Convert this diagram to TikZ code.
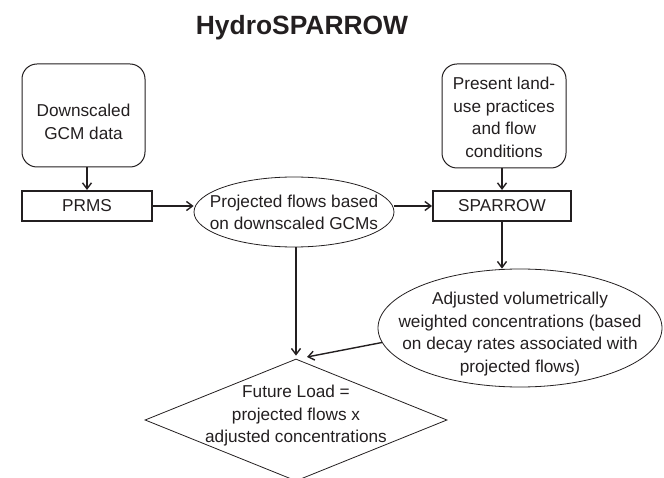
\documentclass[tikz,border=0pt]{standalone}
\usepackage{fontspec}
\setmainfont{Liberation Sans}
\usetikzlibrary{shapes.geometric,arrows.meta}
\definecolor{ink}{HTML}{231F20}
\tikzset{
  rbox/.style={draw=ink, line width=1pt, rounded corners=15pt, inner sep=0pt},
  sbox/.style={draw=ink, line width=2pt, inner sep=0pt, text=ink, font=\fontsize{17.2}{22.5}\selectfont},
  ell/.style={draw=ink, ellipse, line width=0.8pt, inner sep=0pt},
  dia/.style={draw=ink, diamond, line width=0.8pt, inner sep=0pt},
  txt/.style={align=center, text=ink, inner sep=0pt, font=\fontsize{17.2}{22.5}\selectfont},
  conn/.style={draw=ink, line width=1.4pt, -{Straight Barb[length=6pt,width=9pt]}},
}
\begin{document}
\begin{tikzpicture}[x=1pt,y=-1pt]
\useasboundingbox (0,0) rectangle (664,478);
\node[font=\bfseries\fontsize{26.4}{30}\selectfont, text=ink, inner sep=0pt] (title) at (302,28) {HydroSPARROW};
% boxes
\node[rbox, minimum width=123pt, minimum height=103pt] (gcm) at (83.5,115.5) {};
\node[txt] at (83.5,122) {Downscaled\\GCM data};
\node[rbox, minimum width=124pt, minimum height=104pt] (present) at (504,116) {};
\node[txt] at (504,117.5) {Present land-\\use practices\\and flow\\conditions};
\node[sbox, minimum width=130pt, minimum height=30pt] (prms) at (87,206) {PRMS};
\node[sbox, minimum width=138pt, minimum height=30pt] (sparrow) at (502,206) {SPARROW};
\node[ell, minimum width=200pt, minimum height=70pt] (e1) at (294,212) {};
\node[txt] at (294,212.5) {Projected flows based\\on downscaled GCMs};
\node[ell, minimum width=284pt, minimum height=118pt] (e2) at (520,328) {};
\node[txt] at (520,334) {Adjusted volumetrically\\weighted concentrations (based\\on decay rates associated with\\projected flows)};
\node[dia, minimum width=302pt, minimum height=122pt] (load) at (296,420) {};
\node[txt] at (296,416) {Future Load =\\projected flows x\\adjusted concentrations};
\coordinate (dtip) at (307,357);
% connectors
\draw[conn] (gcm.south -| prms.north) -- (prms.north);
\draw[conn] (prms.east) -- (e1.west |- prms.east);
\draw[conn] (e1.east |- sparrow.west) -- (sparrow.west);
\draw[conn] (present.south -| sparrow.north) -- (sparrow.north);
\draw[conn] (sparrow.south) -- (sparrow.south |- e2.north);
\draw[conn, shorten >=3pt] (e1.south -| load.north) -- (load.north);
\draw[conn] (e2.186) -- (dtip);
\end{tikzpicture}
\end{document}
